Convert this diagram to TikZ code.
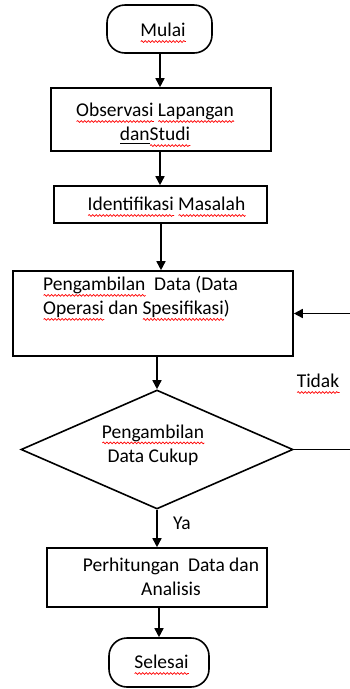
\documentclass[tikz,border=0pt]{standalone}
\usepackage{fontspec}
\setmainfont{Carlito}
\usetikzlibrary{arrows.meta,shapes.geometric,decorations.pathmorphing}
\newsavebox\sqbox
\newcommand\sqw[1]{\sbox\sqbox{#1}\rlap{\raisebox{-6pt}{\tikz\draw[red,line width=0.7pt,decorate,decoration={snake,amplitude=0.9pt,segment length=3.5pt}] (0pt,0pt) -- (\wd\sqbox,0pt);}}\usebox\sqbox}
\newcommand\ulin[1]{\sbox\sqbox{#1}\rlap{\raisebox{-3pt}{\tikz\draw[black,line width=0.7pt] (0pt,0pt) -- (\wd\sqbox,0pt);}}\usebox\sqbox}
\begin{document}
\begin{tikzpicture}[x=1pt,y=-1pt,
  box/.style={draw,line width=1.6pt,inner sep=0pt,fill=white},
  term/.style={box,rounded corners=18pt},
  txt/.style={font=\fontsize{19.5}{24}\selectfont,inner sep=0pt,align=center},
  arr/.style={line width=1.6pt,-{Triangle[length=9pt,width=9pt]}}]
\useasboundingbox (0,0) rectangle (350,689);
\clip (0,0) rectangle (350,689);
% shapes
\node[term,minimum width=105pt,minimum height=48pt] (m) at (159.5,29) {};
\node[box,minimum width=220pt,minimum height=63pt] (b2) at (161,119.5) {};
\node[box,minimum width=213pt,minimum height=37pt] (b3) at (160.5,204.5) {};
\node[box,minimum width=280pt,minimum height=85pt] (b4) at (153,313.5) {};
\node[box,diamond,minimum width=272pt,minimum height=119pt] (d) at (157,449.5) {};
\node[box,minimum width=220pt,minimum height=59pt] (b5) at (157,577.5) {};
\node[term,minimum width=100pt,minimum height=49pt] (s) at (159,662.5) {};
% texts
\node[txt] (tm) at (163,33) {\sqw{Mulai}};
\node[txt] (t2) at (155,125) {\sqw{Observasi} \sqw{Lapangan}\\\ulin{dan}\sqw{Studi}};
\node[txt] (t3) at (166.5,207) {\sqw{Identifikasi} \sqw{Masalah}};
\node[txt,align=left,anchor=west] (t4) at (43,298.5) {\sqw{Pengambilan}\ \ Data (Data\\\sqw{Operasi} dan \sqw{Spesifikasi})};
\node[txt] (td) at (153,445) {\sqw{Pengambilan}\\Data Cukup};
\node[txt] (t5) at (171,576.5) {Perhitungan\ \ Data dan\\Analisis};
\node[txt] (ts) at (161.5,665) {\sqw{Selesai}};
\node[txt] (tt) at (318,384) {\sqw{Tidak}};
\node[txt] (ty) at (182,523) {Ya};
% connectors
\draw[arr] (m.south -| 160,0) -- (b2.north -| 160,0);
\draw[arr] (b2.south -| 160,0) -- (b3.north -| 160,0);
\draw[arr] (b3.south -| 161,0) -- (b4.north -| 161,0);
\draw[arr] (d.north |- b4.south) -- (d.north);
\draw[arr] (d.south) -- (d.south |- b5.north);
\draw[arr] (b5.south -| s.north) -- (s.north);
\coordinate (r) at (354,449.5);
\draw[arr] (d.east) -- (r) |- (b4.east);
\end{tikzpicture}
\end{document}
